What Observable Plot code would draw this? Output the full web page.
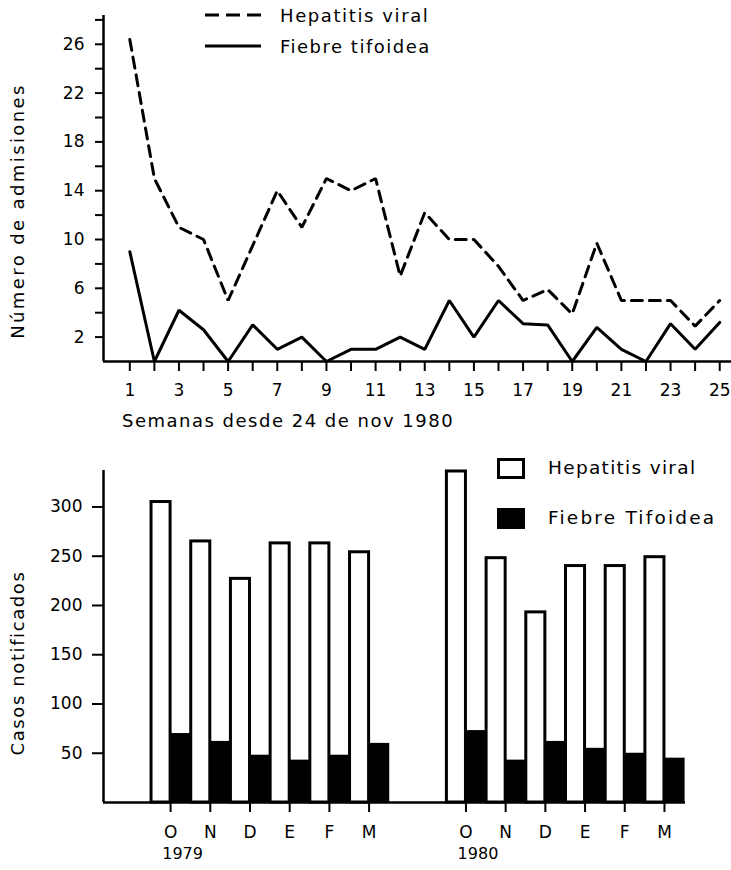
<!DOCTYPE html>
<html><head><meta charset="utf-8">
<script src="https://cdn.jsdelivr.net/npm/d3@7"></script>
<script src="https://cdn.jsdelivr.net/npm/@observablehq/plot@0.6"></script>
<style>
body{margin:0;background:#fff;font-family:"DejaVu Sans",sans-serif;color:#000;}
#wrap{position:relative;width:731px;height:870px;overflow:hidden;background:#fff;}
#top,#bottom{position:absolute;left:0;}
#top{top:0;} #bottom{top:440px;}
.t{position:absolute;font-size:18px;line-height:1;letter-spacing:1.4px;white-space:nowrap;}
.sw{position:absolute;box-sizing:border-box;}
svg.ls{position:absolute;overflow:visible;}
</style></head>
<body><div id="wrap">
<div id="top"></div>
<div id="bottom"></div>
</div>
<script>
// ---- Top chart data: weekly admissions ----
const weeks = [1,2,3,4,5,6,7,8,9,10,11,12,13,14,15,16,17,18,19,20,21,22,23,24,25];
const hepatitisWeekly = [26.4,15,11,10,5,9.5,14,11,15,14,15,7,12.2,10,10,7.8,5,5.9,3.9,9.7,5,5,5,2.9,5];
const tifoideaWeekly  = [9,0,4.2,2.6,0,3,1,2,0,1,1,2,1,5,2,5,3.1,3,0,2.8,1,0,3.1,1,3.2];
const topYTicks = [2,4,6,8,10,12,14,16,18,20,22,24,26,28];
const topYLabels = [2,6,10,14,18,22,26];
const topLegend = ["Hepatitis viral","Fiebre tifoidea"];
const topXTitle = "Semanas desde 24 de nov  1980";
const topYTitle = "Número de admisiones";

// ---- Bottom chart data: monthly notified cases ----
const months = ["O","N","D","E","F","M"];
const years = ["1979","1980"];
const hepatitis1979 = [305,265,227,263,263,254];
const tifoidea1979  = [70,62,48,43,48,60];
const hepatitis1980 = [336,248,193,240,240,249];
const tifoidea1980  = [73,43,62,55,50,45];
const bottomYTicks = [50,100,150,200,250,300];
const bottomLegend = ["Hepatitis viral","Fiebre Tifoidea"];
const bottomYTitle = "Casos notificados";

const font = {fontFamily:"DejaVu Sans, sans-serif", fontSize:"17px", color:"black", background:"white", overflow:"visible"};

// ---- Top plot ----
const weekly = weeks.map((w,i)=>({week:w, hep:hepatitisWeekly[i], tif:tifoideaWeekly[i]}));
const weekDomain = [-0.07, 25.48];
const topPlot = Plot.plot({
  width:731, height:440,
  marginLeft:103, marginRight:0, marginTop:15, marginBottom:79,
  style:font,
  x:{domain:weekDomain, label:null},
  y:{domain:[0,28.36], label:null},
  marks:[
    Plot.axisY({ticks:topYTicks, tickSize:8, tickPadding:11, strokeWidth:2,
      tickFormat:d=>topYLabels.includes(d)?String(d):"", label:null}),
    Plot.axisX({ticks:weeks, tickSize:10, tickPadding:12, strokeWidth:2,
      tickFormat:d=>d%2===1?String(d):"", label:null}),
    Plot.line(weekly,{x:"week",y:"hep",stroke:"black",strokeWidth:3,strokeDasharray:"11,7",strokeLinejoin:"miter"}),
    Plot.line(weekly,{x:"week",y:"tif",stroke:"black",strokeWidth:3,strokeLinejoin:"miter"}),
    Plot.ruleX([weekDomain[0]],{stroke:"black",strokeWidth:2.5}),
    Plot.ruleY([0],{stroke:"black",strokeWidth:2.5})
  ]
});
document.getElementById("top").appendChild(topPlot);

// ---- Bottom plot ----
const slotStart = {"1979":1.69, "1980":9.13};
const series = [
  {year:years[0], hep:hepatitis1979, tif:tifoidea1979},
  {year:years[1], hep:hepatitis1980, tif:tifoidea1980}
];
const monthly = [];
series.forEach(s=>months.forEach((m,i)=>monthly.push({year:s.year, month:m, pos:slotStart[s.year]+i, hep:s.hep[i], tif:s.tif[i]})));
const monthTicks = monthly.map(d=>d.pos);
const monthAt = new Map(monthly.map(d=>[d.pos, d.month]));
const slotDomain = [0,14.66];
const bottomPlot = Plot.plot({
  width:731, height:430,
  marginLeft:103, marginRight:46, marginTop:30, marginBottom:68,
  style:font,
  x:{domain:slotDomain, label:null},
  y:{domain:[0,337], label:null},
  marks:[
    Plot.axisY({ticks:bottomYTicks, tickSize:11, tickPadding:10, strokeWidth:2, label:null}),
    Plot.axisX({ticks:monthTicks, tickSize:10, tickPadding:13, strokeWidth:2,
      tickFormat:d=>monthAt.get(d) ?? "", label:null}),
    Plot.rectY(monthly,{x1:d=>d.pos-0.48, x2:"pos", y1:0, y2:"hep", fill:"white", stroke:"black", strokeWidth:3}),
    Plot.rectY(monthly,{x1:"pos", x2:d=>d.pos+0.52, y1:0, y2:"tif", fill:"black"}),
    Plot.ruleX([slotDomain[0]],{stroke:"black",strokeWidth:2.5}),
    Plot.ruleY([0],{stroke:"black",strokeWidth:2.5}),
    Plot.text(series,{x:d=>slotStart[d.year], text:"year", frameAnchor:"bottom", dx:12, dy:56, fontSize:16})
  ]
});
document.getElementById("bottom").appendChild(bottomPlot);

// ---- Titles & legends (HTML overlay) ----
const wrap = document.getElementById("wrap");
function addText(txt, left, top, extra){
  const d = document.createElement("div");
  d.className = "t"; d.textContent = txt;
  d.style.left = left+"px"; d.style.top = top+"px";
  if (extra) Object.assign(d.style, extra);
  wrap.appendChild(d); return d;
}
addText(topYTitle, 18, 211, {transform:"translate(-50%,-50%) rotate(-90deg)", letterSpacing:"2.4px"});
addText(topXTitle, 122, 412, {letterSpacing:"1.5px"});
addText(topLegend[0], 280, 6.5, {letterSpacing:"1.6px"});
addText(topLegend[1], 280, 37.5, {letterSpacing:"1.5px"});
addText(bottomYTitle, 18, 663, {transform:"translate(-50%,-50%) rotate(-90deg)", letterSpacing:"1.6px"});
addText(bottomLegend[0], 548, 459, {letterSpacing:"1.3px", fontSize:"18.5px"});
addText(bottomLegend[1], 548, 509, {letterSpacing:"2.2px", fontSize:"18.5px"});

function lineSample(y, dash){
  const ns = "http://www.w3.org/2000/svg";
  const s = document.createElementNS(ns,"svg");
  s.setAttribute("class","ls"); s.setAttribute("width","60"); s.setAttribute("height","6");
  s.style.left="204px"; s.style.top=(y-3)+"px";
  const l = document.createElementNS(ns,"line");
  l.setAttribute("x1","1"); l.setAttribute("x2","57"); l.setAttribute("y1","3"); l.setAttribute("y2","3");
  l.setAttribute("stroke","black"); l.setAttribute("stroke-width","3");
  if (dash) l.setAttribute("stroke-dasharray", dash);
  s.appendChild(l); wrap.appendChild(s);
}
lineSample(15, "14,7");
lineSample(46, null);

function swatch(top, filled){
  const d = document.createElement("div");
  d.className="sw";
  Object.assign(d.style,{left:"497px", top:top+"px", width:"28px", height:"21px",
    border:"3px solid black", background: filled ? "black" : "white"});
  wrap.appendChild(d);
}
swatch(458, false);
swatch(508, true);
</script>
</body></html>
